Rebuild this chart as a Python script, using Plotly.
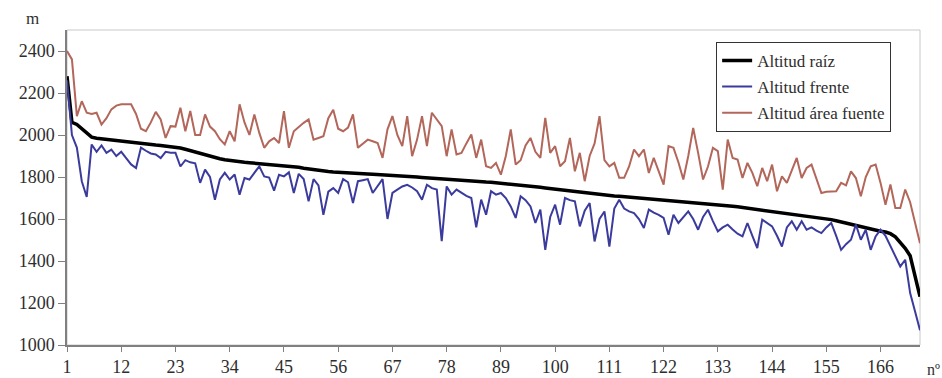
import plotly.graph_objects as go

n_index = list(range(1, 175))

altitud_raiz = [
    2280, 2060, 2050, 2030, 2005, 1990, 1985, 1982, 1978, 1975,
    1972, 1970, 1967, 1965, 1962, 1960, 1957, 1955, 1952, 1950,
    1948, 1946, 1942, 1938, 1932, 1925, 1918, 1912, 1906, 1900,
    1893, 1887, 1882, 1878, 1875, 1872, 1870, 1868, 1866, 1865,
    1863, 1862, 1860, 1858, 1855, 1852, 1849, 1846, 1842, 1838,
    1834, 1830, 1828, 1826, 1824, 1822, 1820, 1818, 1817, 1816,
    1815, 1814, 1813, 1812, 1810, 1808, 1806, 1804, 1803, 1802,
    1801, 1800, 1798, 1796, 1794, 1792, 1790, 1788, 1787, 1786,
    1785, 1784, 1782, 1780, 1778, 1776, 1775, 1773, 1770, 1768,
    1766, 1764, 1762, 1760, 1757, 1754, 1751, 1748, 1745, 1742,
    1739, 1736, 1733, 1730, 1727, 1724, 1721, 1718, 1716, 1714,
    1712, 1710, 1708, 1706, 1704, 1702, 1700, 1698, 1696, 1694,
    1692, 1690, 1688, 1686, 1684, 1682, 1681, 1680, 1678, 1677,
    1675, 1673, 1670, 1667, 1664, 1661, 1658, 1655, 1652, 1649,
    1646, 1643, 1640, 1637, 1634, 1631, 1628, 1625, 1622, 1619,
    1616, 1613, 1610, 1606, 1602, 1597, 1592, 1586, 1580, 1574,
    1568, 1562, 1556, 1550, 1546, 1542, 1538, 1530, 1515, 1490,
    1460, 1425, 1335, 1230,
]

altitud_frente = [
    2260, 2000, 1940, 1780, 1705, 1955, 1920, 1950, 1915, 1930,
    1900, 1920, 1890, 1860, 1843, 1940, 1925, 1912, 1907, 1890,
    1920, 1915, 1915, 1850, 1880, 1870, 1865, 1772, 1835, 1800,
    1692, 1788, 1820, 1788, 1812, 1716, 1795, 1788, 1820, 1851,
    1803, 1797, 1735, 1811, 1803, 1822, 1724, 1815, 1790, 1684,
    1790, 1760, 1620, 1730, 1747, 1724, 1790, 1775, 1676, 1780,
    1785, 1790, 1724, 1755, 1790, 1600, 1724, 1740, 1755, 1763,
    1750, 1732, 1692, 1763, 1747, 1740, 1495, 1755, 1716, 1740,
    1725, 1710, 1700, 1560, 1692, 1620, 1732, 1716, 1724, 1700,
    1660, 1605, 1708, 1690, 1660, 1581, 1645, 1453, 1610, 1668,
    1573, 1700, 1690, 1684, 1565, 1640, 1676, 1493, 1600, 1636,
    1469, 1650, 1692, 1650, 1636, 1628, 1600, 1557, 1645, 1630,
    1620, 1605, 1525, 1620, 1581, 1610, 1636, 1600, 1549, 1610,
    1644, 1590, 1541, 1560, 1573, 1550, 1530, 1517, 1581, 1520,
    1461, 1597, 1580, 1565, 1520, 1469, 1560, 1589, 1549, 1589,
    1549, 1560, 1545, 1533, 1560, 1581, 1520, 1453, 1480, 1501,
    1573, 1501, 1549, 1453, 1517, 1549, 1520, 1469, 1420, 1374,
    1406, 1247, 1160, 1070,
]

altitud_area_fuente = [
    2400, 2360, 2090, 2161, 2106, 2100, 2106, 2050, 2080, 2122,
    2140, 2146, 2146, 2146, 2100, 2030, 2018, 2060, 2110, 2074,
    1986, 2042, 2040, 2130, 2018, 2114, 2000, 2000, 2098, 2040,
    2018, 1980, 1955, 2018, 1970, 2146, 2060, 2000, 2098, 2010,
    1939, 1970, 1986, 1962, 2114, 1939, 2018, 2040, 2058, 2074,
    1978, 1986, 1994, 2080, 2120, 2030, 2018, 2035, 2098, 1939,
    1960, 1978, 1970, 1962, 1891, 2027, 2090, 2000, 1947, 2090,
    1899, 1978, 2090, 1947, 2106, 2074, 2042, 1899, 2027, 1907,
    1915, 1960, 2002, 1891, 1978, 1851, 1843, 1867, 1811, 1900,
    2027, 1859, 1880, 1950, 1986, 1920, 1891, 2082, 1915, 1947,
    1851, 1875, 1986, 1827, 1915, 1780, 1900, 1960, 2090, 1880,
    1851, 1867, 1796, 1796, 1850, 1931, 1899, 1931, 1819, 1891,
    1830, 1764, 1947, 1939, 1870, 1788, 1900, 2034, 1915, 1788,
    1850, 1939, 1923, 1740, 1978, 1891, 1883, 1795, 1867, 1820,
    1756, 1843, 1780, 1859, 1732, 1803, 1772, 1830, 1891, 1795,
    1843, 1859, 1788, 1724, 1730, 1730, 1732, 1772, 1760, 1827,
    1795, 1708, 1800, 1851, 1859, 1772, 1668, 1764, 1652, 1652,
    1740, 1680, 1580, 1485,
]

x_tick_values = [1, 12, 23, 34, 45, 56, 67, 78, 89, 100, 111, 122, 133, 144, 155, 166]
y_tick_values = [1000, 1200, 1400, 1600, 1800, 2000, 2200, 2400]

FONT = "Liberation Serif"
TXT = "#2e2e2e"

fig = go.Figure()
fig.add_trace(go.Scatter(x=n_index, y=altitud_raiz, mode="lines", name="Altitud raíz",
                         legendgroup="a", line=dict(color="#000000", width=3.5)))
fig.add_trace(go.Scatter(x=n_index, y=altitud_frente, mode="lines", name="Altitud frente",
                         legendgroup="b", line=dict(color="#3b3b9e", width=2)))
fig.add_trace(go.Scatter(x=n_index, y=altitud_area_fuente, mode="lines", name="Altitud área fuente",
                         legendgroup="c", line=dict(color="#b3665a", width=2)))

fig.update_layout(
    width=942, height=378,
    margin=dict(l=67, r=22, t=30, b=33, autoexpand=False),
    paper_bgcolor="white", plot_bgcolor="white",
    font=dict(family=FONT, size=18, color=TXT),
    showlegend=True,
    legend=dict(
        x=0.761, y=0.962, xanchor="left", yanchor="top",
        bgcolor="white", bordercolor="#333333", borderwidth=1,
        font=dict(family=FONT, size=17, color=TXT),
        itemwidth=30, tracegroupgap=1,
    ),
    xaxis=dict(
        range=[1, 174], tickmode="array", tickvals=x_tick_values,
        ticks="outside", ticklen=5, tickcolor="#808080",
        showline=True, linecolor="#808080", linewidth=1.5,
        showgrid=False, zeroline=False, automargin=False,
    ),
    yaxis=dict(
        range=[1000, 2500], tickmode="array", tickvals=y_tick_values,
        ticks="outside", ticklen=7, tickcolor="#808080",
        showline=True, linecolor="#808080", linewidth=1.5,
        showgrid=False, zeroline=False, automargin=False,
    ),
    shapes=[
        dict(type="rect", xref="paper", yref="paper", x0=0, y0=0, x1=1, y1=1,
             line=dict(color="#c8c8c8", width=1), layer="below"),
    ],
    annotations=[
        dict(text="m", xref="paper", yref="paper", x=-0.04, y=1.035,
             xanchor="center", yanchor="middle",
             showarrow=False, font=dict(family=FONT, size=17, color=TXT)),
        dict(text="nº", xref="paper", yref="paper", x=1.006, y=-0.078,
             xanchor="left", yanchor="middle",
             showarrow=False, font=dict(family=FONT, size=16, color=TXT)),
    ],
)

fig.write_html(
    "out.html",
    config={"displayModeBar": False},
    post_script="document.body.style.margin='0';document.body.style.overflow='hidden';",
)
